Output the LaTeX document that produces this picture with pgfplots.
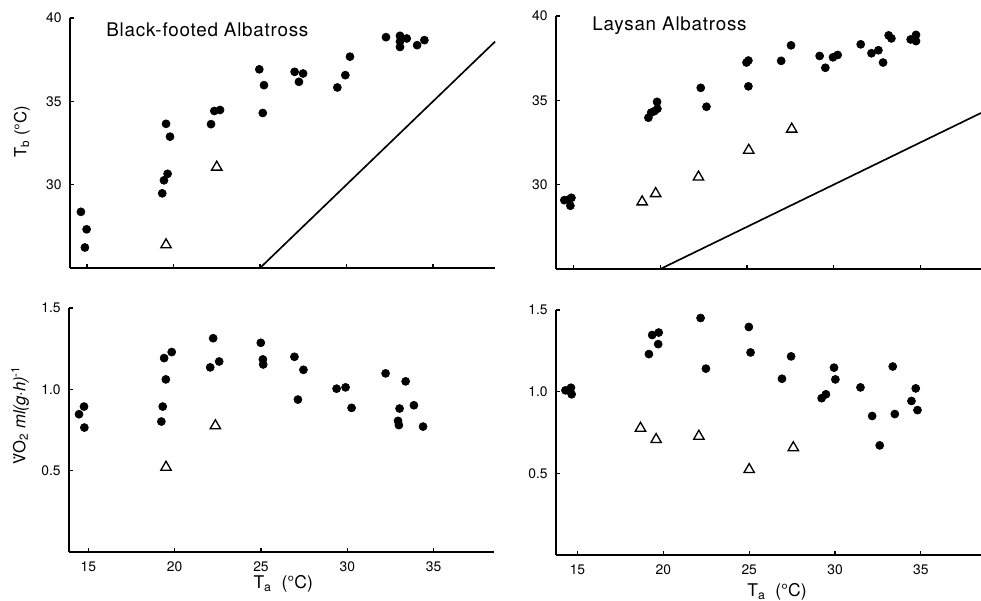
\documentclass[border=0pt]{standalone}
\usepackage{pgfplots}
\pgfplotsset{compat=1.18}
\usepackage{fontspec}
\setmainfont{TeX Gyre Heros}
\newfontfamily\ttlfont[LetterSpace=4]{TeX Gyre Heros}

\pgfplotstableread{
x y
14.65 28.37
14.98 27.32
14.88 26.23
19.35 29.48
19.45 30.26
19.66 30.65
19.57 33.65
19.80 32.88
22.17 33.63
22.36 34.42
22.69 34.48
24.96 36.92
25.23 35.97
25.16 34.30
27.00 36.77
27.25 36.17
27.49 36.67
29.47 35.83
29.93 36.57
30.20 37.68
32.28 38.85
33.09 38.93
33.09 38.59
33.09 38.26
33.48 38.77
34.08 38.37
34.50 38.67
}\bfTb
\pgfplotstableread{
x y
19.57 26.39
22.50 31.05
}\bfTbtri
\pgfplotstableread{
x y
14.46 29.08
14.71 29.12
14.87 29.22
14.81 28.75
19.31 33.97
19.47 34.27
19.66 34.36
19.83 34.50
19.81 34.91
22.33 35.74
22.66 34.62
24.97 37.24
25.08 37.36
25.08 35.83
26.97 37.34
27.54 38.26
29.19 37.63
29.52 36.93
29.96 37.55
30.23 37.69
31.56 38.32
32.18 37.79
32.58 37.97
32.85 37.24
33.17 38.85
33.33 38.67
34.44 38.61
34.75 38.88
34.75 38.51
}\laTb
\pgfplotstableread{
x y
18.95 28.98
19.73 29.47
22.20 30.45
25.10 32.04
27.58 33.29
}\laTbtri
\pgfplotstableread{
x y
14.46 0.847
14.75 0.894
14.77 0.765
19.23 0.802
19.31 0.894
19.49 1.061
19.39 1.192
19.83 1.229
22.06 1.135
22.23 1.314
22.58 1.171
24.99 1.286
25.11 1.184
25.13 1.153
26.94 1.200
27.46 1.120
27.14 0.937
29.38 1.004
29.90 1.012
30.25 0.886
32.22 1.098
33.38 1.049
33.03 0.882
32.94 0.806
32.99 0.780
33.86 0.902
34.39 0.771
}\bfVO
\pgfplotstableread{
x y
19.50 0.521
22.36 0.776
}\bfVOtri
\pgfplotstableread{
x y
14.30 1.008
14.62 1.024
14.66 0.984
19.16 1.230
19.35 1.347
19.73 1.362
19.70 1.291
22.17 1.451
22.48 1.141
24.98 1.396
25.08 1.240
26.91 1.079
27.44 1.216
29.22 0.960
29.47 0.984
29.94 1.147
30.02 1.075
31.48 1.026
32.16 0.851
32.60 0.671
33.36 1.154
33.48 0.863
34.45 0.943
34.70 1.020
34.80 0.887
}\laVO
\pgfplotstableread{
x y
18.67 0.776
19.58 0.707
22.07 0.727
25.00 0.523
27.57 0.657
}\laVOtri

\tikzset{
  ttl/.style={anchor=west, inner sep=0pt, font=\ttlfont\fontsize{11.3}{13}\selectfont},
  lab/.style={font=\fontsize{10}{12}\selectfont, anchor=center},
}
\pgfplotsset{
  panel/.style={
    scale only axis, width=255pt,
    axis x line*=bottom, axis y line*=left,
    axis line style={-, line width=1pt},
    tick align=inside, major tick length=2.6pt,
    tick style={line width=0.7pt, black},
    xtick={15,20,25,30,35},
    tick label style={font=\fontsize{8.3}{9}\selectfont},
    /pgf/number format/assume math mode=true,
    xticklabel style={yshift=-2.5pt},
    yticklabel style={xshift=-1.5pt},
    clip=false,
  },
  dots/.style={only marks, mark=*, mark size=2.4pt, black, mark options={fill=black}},
  tris/.style={only marks, mark=triangle, mark size=3.6pt, black, mark options={fill=white, line width=0.8pt}},
}

\begin{document}
\begin{tikzpicture}
\useasboundingbox (0,0) rectangle (588.6pt,360.6pt);

% Black-footed, Tb
\begin{axis}[panel, at={(42pt,199.8pt)}, anchor=south west, height=150pt,
  xmin=14.02, xmax=38.58, ymin=25, ymax=40, ytick={30,35,40}, xticklabels={},
  ylabel={T\textsubscript{b} (°C)},
  ylabel style={lab, at={(axis description cs:-0.113,0.545)}}]
\addplot[line width=1pt, black] coordinates {(25,25) (38.58,38.58)};
\addplot[dots] table {\bfTb};
\addplot[tris] table {\bfTbtri};
\node[ttl] at (axis cs:16.1,39.3) {Black-footed Albatross};
\end{axis}

% Laysan, Tb
\begin{axis}[panel, at={(333.6pt,199.2pt)}, anchor=south west, height=151.8pt,
  xmin=13.98, xmax=38.5, ymin=25, ymax=40, ytick={30,35,40}, xticklabels={}]
\addplot[line width=1pt, black] coordinates {(20,25) (38.5,34.25)};
\addplot[dots] table {\laTb};
\addplot[tris] table {\laTbtri};
\node[ttl] at (axis cs:16.06,39.4) {Laysan Albatross};
\end{axis}

% Black-footed, VO2
\begin{axis}[panel, at={(41.4pt,29.4pt)}, anchor=south west, height=146.4pt,
  xmin=13.88, xmax=38.5, ymin=0, ymax=1.5, ytick={0.5,1,1.5},
  yticklabel style={/pgf/number format/.cd, fixed, fixed zerofill, precision=1},
  ylabel={\.{V}O\textsubscript{2} \textit{ml(g·h)}\textsuperscript{-1}},
  ylabel style={lab, at={(axis description cs:-0.115,0.56)}},
  xlabel={T\textsubscript{a}\ \ (°C)},
  xlabel style={lab, font=\fontsize{10.5}{12}\selectfont, at={(axis description cs:0.504,-0.13)}}]
\addplot[dots] table {\bfVO};
\addplot[tris] table {\bfVOtri};
\end{axis}

% Laysan, VO2
\begin{axis}[panel, at={(333.6pt,27.6pt)}, anchor=south west, height=147pt,
  xmin=13.75, xmax=38.5, ymin=0, ymax=1.5, ytick={0.5,1,1.5},
  yticklabel style={/pgf/number format/.cd, fixed, fixed zerofill, precision=1},
  xlabel={T\textsubscript{a}\ \ (°C)},
  xlabel style={lab, font=\fontsize{10.5}{12}\selectfont, at={(axis description cs:0.52,-0.15)}}]
\addplot[dots] table {\laVO};
\addplot[tris] table {\laVOtri};
\end{axis}
\end{tikzpicture}
\end{document}
